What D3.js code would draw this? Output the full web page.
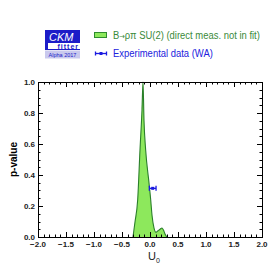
<!DOCTYPE html>
<html><head><meta charset="utf-8">
<script src="https://cdn.jsdelivr.net/npm/d3@7"></script>
<style>body{margin:0;background:#fff}svg{display:block}</style>
</head><body>
<script>
const curveX = [-0.304,-0.268,-0.22,-0.179,-0.143,-0.125,-0.107,-0.077,-0.018,0.0125,0.036,0.07,0.107,0.143,0.18,0.214,0.24,0.268,0.30];
const curveP = [0,0.097,0.24,0.56,0.82,1.0,0.75,0.56,0.35,0.24,0.14,0.06,0.03,0.04,0.05,0.058,0.045,0.02,0];
const expX = [0.048], expErr = [0.06], expP = [0.314];
const xTicks = [-2.0,-1.5,-1.0,-0.5,0.0,0.5,1.0,1.5,2.0];
const yTicks = [0.0,0.2,0.4,0.6,0.8,1.0];
const legendParts = [["B","\u2192","\u03c1\u03c0 SU(2) (direct meas. not in fit)"],["Experimental data (WA)"]];

const W=276,H=276, L=38,R=262,T=82,B=237;
const svg=d3.select("body").append("svg").attr("width",W).attr("height",H);
const x=d3.scaleLinear().domain([-2,2]).range([L,R]);
const y=d3.scaleLinear().domain([0,1]).range([B,T]);
const font="'Liberation Sans Narrow','Liberation Sans',Arial,sans-serif";

// curve
const pts=curveX.map((v,i)=>[v,curveP[i]]);
svg.append("path").datum(pts)
 .attr("d",d3.area().x(d=>x(d[0])).y0(y(0)).y1(d=>y(d[1])).curve(d3.curveMonotoneX))
 .attr("fill","#8de85c");
svg.append("path").datum(pts)
 .attr("d",d3.line().x(d=>x(d[0])).y(d=>y(d[1])).curve(d3.curveMonotoneX))
 .attr("fill","none").attr("stroke","#2a7f2a").attr("stroke-width",1.1);

// frame
svg.append("rect").attr("x",L+0.5).attr("y",T+0.5).attr("width",R-L).attr("height",B-T)
 .attr("fill","none").attr("stroke","#000").attr("stroke-width",1);

// ticks
const g=svg.append("g").attr("stroke","#000").attr("stroke-width",1);
d3.range(-20,21).forEach(i=>{
  const v=i/10, len=(i%5===0)?5:2.5, px=Math.round(x(v))+0.5;
  g.append("line").attr("x1",px).attr("x2",px).attr("y1",B).attr("y2",B-len);
  g.append("line").attr("x1",px).attr("x2",px).attr("y1",T).attr("y2",T+len);
});
d3.range(0,21).forEach(i=>{
  const v=i/20, len=(i%4===0)?5:2.5, py=Math.round(y(v))+0.5;
  g.append("line").attr("y1",py).attr("y2",py).attr("x1",L).attr("x2",L+len);
  g.append("line").attr("y1",py).attr("y2",py).attr("x1",R).attr("x2",R-len);
});
svg.selectAll(".xt").data(xTicks).enter().append("text")
 .attr("x",d=>x(d)).attr("y",B+10).attr("text-anchor","middle")
 .attr("font-family",font).attr("font-size",8).attr("font-weight","bold").attr("fill","#222")
 .text(d=>d.toFixed(1).replace("-","\u2212"));
svg.selectAll(".yt").data(yTicks).enter().append("text")
 .attr("x",L-3).attr("y",d=>y(d)+3).attr("text-anchor","end")
 .attr("font-family",font).attr("font-size",8).attr("font-weight","bold").attr("fill","#222")
 .text(d=>d.toFixed(1));

// axis titles
svg.append("text").attr("transform",`translate(17,${(T+B)/2}) rotate(-90)`)
 .attr("text-anchor","middle").attr("font-family",font).attr("font-size",10).attr("font-weight","bold")
 .text("p-value");
const xt=svg.append("text").attr("x",148).attr("y",260).attr("font-family",font).attr("font-size",11).attr("fill","#222");
xt.append("tspan").text("U");
xt.append("tspan").attr("font-size",7).attr("dy",3).text("0");

// experimental point
expX.forEach((v,i)=>{
  const cx=x(v), cy=y(expP[i]), x1=x(v-expErr[i]), x2=x(v+expErr[i]);
  const ge=svg.append("g").attr("stroke","#1a1ae0").attr("stroke-width",1.3);
  ge.append("line").attr("x1",x1).attr("x2",x2).attr("y1",cy).attr("y2",cy);
  ge.append("line").attr("x1",x1).attr("x2",x1).attr("y1",cy-2.5).attr("y2",cy+2.5);
  ge.append("line").attr("x1",x2).attr("x2",x2).attr("y1",cy-2.5).attr("y2",cy+2.5);
  svg.append("rect").attr("x",cx-1.5).attr("y",cy-1.5).attr("width",3).attr("height",3).attr("fill","#1a1ae0");
});

// logo
svg.append("rect").attr("x",45).attr("y",30).attr("width",35).attr("height",13).attr("fill","#1c1cc8");
svg.append("text").attr("x",49).attr("y",41).attr("font-family",font).attr("font-style","italic")
 .attr("font-size",11).attr("fill","#fff").text("CKM");
svg.append("rect").attr("x",45).attr("y",43).attr("width",3).attr("height",6).attr("fill","#1c1cc8");
svg.append("text").attr("x",79).attr("y",48.5).attr("text-anchor","end").attr("font-family",font)
 .attr("font-size",7).attr("font-weight","bold").attr("letter-spacing",1).attr("fill","#1c1cc8").text("fitter");
svg.append("line").attr("x1",45).attr("x2",80).attr("y1",49.5).attr("y2",49.5).attr("stroke","#1c1cc8").attr("stroke-width",1);
svg.append("rect").attr("x",45).attr("y",50.5).attr("width",35).attr("height",8).attr("fill","#c9c9ee");
svg.append("text").attr("x",62.5).attr("y",57).attr("text-anchor","middle").attr("font-family",font)
 .attr("font-size",5.5).attr("fill","#1c1cc8").text("Alpha 2017");

// legend
svg.append("rect").attr("x",94.5).attr("y",32.5).attr("width",12).attr("height",5)
 .attr("fill","#8de85c").attr("stroke","#2e8b2e").attr("stroke-width",1);
const t1=svg.append("text").attr("x",113).attr("y",39).attr("font-family",font).attr("font-size",11.5)
 .attr("fill","#3a8a3a");
t1.append("tspan").text(legendParts[0][0]);
t1.append("tspan").attr("font-family","'DejaVu Sans',sans-serif").attr("font-size",8).text(legendParts[0][1]);
t1.append("tspan").text(legendParts[0][2]);
// fit width to 147px
const bb=t1.node().getComputedTextLength();
t1.attr("transform",`translate(113,39) scale(${147/bb},1) translate(-113,-39)`);
const gl=svg.append("g").attr("stroke","#1a1ae0").attr("stroke-width",1.3);
gl.append("line").attr("x1",95).attr("x2",107).attr("y1",53.5).attr("y2",53.5);
gl.append("line").attr("x1",95.5).attr("x2",95.5).attr("y1",51.5).attr("y2",55.5);
gl.append("line").attr("x1",106.5).attr("x2",106.5).attr("y1",51.5).attr("y2",55.5);
svg.append("rect").attr("x",99.5).attr("y",52).attr("width",3).attr("height",3).attr("fill","#1a1ae0");
const t2=svg.append("text").attr("x",113).attr("y",57.5).attr("font-family",font).attr("font-size",11.5)
 .attr("fill","#2222dd").text(legendParts[1][0]);
const bb2=t2.node().getComputedTextLength();
t2.attr("transform",`translate(113,57.5) scale(${100/bb2},1) translate(-113,-57.5)`);
</script>
</body></html>
